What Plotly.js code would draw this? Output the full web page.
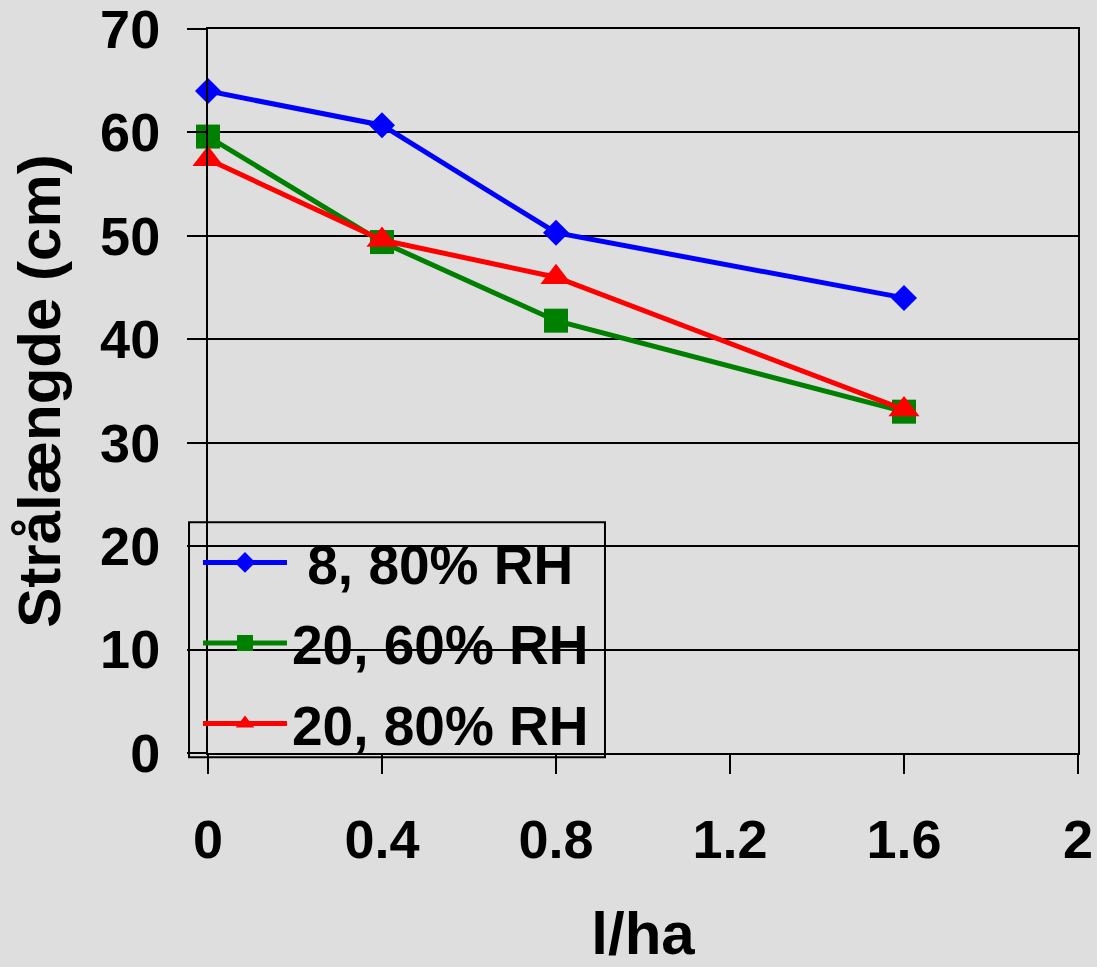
<!DOCTYPE html>
<html>
<head>
<meta charset="utf-8">
<script src="https://cdn.plot.ly/plotly-3.0.1.min.js"></script>
<style>html,body{margin:0;padding:0;background:#dedede;}</style>
</head>
<body>
<div id="chart" style="width:1097px;height:967px;"></div>
<script>
const xValues = [0, 0.4, 0.8, 1.6];
const seriesNames = ['\u00a08, 80% RH', '20, 60% RH', '20, 80% RH'];
const series8RH80 = [64.0, 60.7, 50.3, 44.0];
const series20RH60 = [59.6, 49.4, 41.8, 33.0];
const series20RH80 = [57.4, 49.6, 46.0, 33.2];
const xTickVals = [0, 0.4, 0.8, 1.2, 1.6, 2];
const xTickText = ['0', '0.4', '0.8', '1.2', '1.6', '2'];
const yTickVals = [0, 10, 20, 30, 40, 50, 60, 70];

const FONT = 'Liberation Sans, Arial, sans-serif';
const BG = '#dedede';

const traces = [
  {x: xValues, y: series8RH80, name: seriesNames[0], legendgroup: 'a', mode: 'lines+markers', cliponaxis: false,
   line: {color: '#0000ff', width: 5}, marker: {symbol: 'diamond', size: 20, color: '#0000ff'}},
  {x: xValues, y: series20RH60, name: seriesNames[1], legendgroup: 'b', mode: 'lines+markers', cliponaxis: false,
   line: {color: '#008000', width: 5}, marker: {symbol: 'square', size: 24, color: '#008000'}},
  {x: xValues, y: series20RH80, name: seriesNames[2], legendgroup: 'c', mode: 'lines+markers', cliponaxis: false,
   line: {color: '#ff0000', width: 5}, marker: {symbol: 'triangle-up', size: 27, color: '#ff0000'}}
];

const layout = {
  width: 1097, height: 967,
  paper_bgcolor: BG, plot_bgcolor: BG,
  margin: {l: 208, r: 19, t: 29, b: 214, pad: 0},
  font: {family: FONT, size: 53, color: '#000', weight: 'bold'},
  showlegend: true,
  xaxis: {
    range: [0, 2], tickvals: xTickVals, ticktext: xTickText,
    showgrid: false, zeroline: false,
    showline: true, linecolor: '#000', linewidth: 2, mirror: true,
    ticks: 'outside', ticklen: 19, tickwidth: 2, tickcolor: '#000',
    ticklabelstandoff: 19, ticklabeloverflow: 'allow',
    tickfont: {family: FONT, size: 54, color: '#000', weight: 'bold'},
    title: {text: 'l/ha', font: {family: FONT, size: 60, color: '#000', weight: 'bold'}, standoff: 57}
  },
  yaxis: {
    range: [0, 70], tickvals: yTickVals,
    showgrid: true, gridcolor: '#000', gridwidth: 2, zeroline: false,
    showline: true, linecolor: '#000', linewidth: 2, mirror: true,
    ticks: 'outside', ticklen: 19, tickwidth: 2, tickcolor: '#000',
    ticklabelstandoff: 16, ticklabeloverflow: 'allow',
    tickfont: {family: FONT, size: 54, color: '#000', weight: 'bold'},
    title: {text: 'Strålængde (cm)', font: {family: FONT, size: 60, color: '#000', weight: 'bold'}, standoff: 20}
  },
  legend: {
    x: -0.0115, y: 0.3216, xanchor: 'left', yanchor: 'top',
    bgcolor: 'rgba(0,0,0,0)', borderwidth: 0,
    font: {family: FONT, size: 55, color: '#000', weight: 'bold'},
    itemwidth: 84, tracegroupgap: 6, traceorder: 'grouped'
  },
  shapes: [
    {type: 'rect', xref: 'paper', yref: 'paper', x0: -0.0218, x1: 0.4563, y0: -0.0059, y1: 0.3188,
     fillcolor: BG, line: {width: 2, color: '#000'}, layer: 'between'}
  ]
};

Plotly.newPlot('chart', traces, layout, {displayModeBar: false, staticPlot: true});
</script>
</body>
</html>
